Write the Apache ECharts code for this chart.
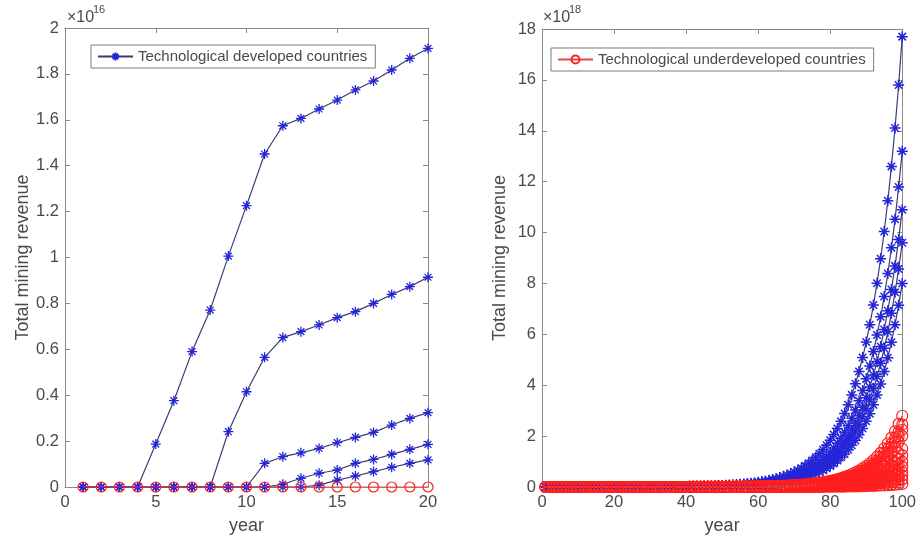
<!DOCTYPE html>
<html>
<head>
<meta charset="utf-8">
<script src="https://cdn.jsdelivr.net/npm/echarts@6/dist/echarts.min.js"></script>
<style>
html,body{margin:0;padding:0;background:#fff;}
#chart{width:919px;height:542px;}
</style>
</head>
<body>
<div id="chart"></div>
<script>
// ---------------- DATA ----------------
// Left panel: values in units of 1e16
const leftYears = [1,2,3,4,5,6,7,8,9,10,11,12,13,14,15,16,17,18,19,20];
const leftDevA = [0,0,0,0,0.187,0.376,0.59,0.771,1.006,1.226,1.451,1.574,1.606,1.647,1.686,1.73,1.769,1.817,1.868,1.911];
const leftDevB = [0,0,0,0,0,0,0,0,0.241,0.415,0.565,0.651,0.677,0.706,0.738,0.764,0.800,0.839,0.873,0.914];
const leftDevC = [0,0,0,0,0,0,0,0,0,0,0.103,0.132,0.149,0.168,0.193,0.216,0.238,0.270,0.299,0.324];
const leftDevD = [0,0,0,0,0,0,0,0,0,0,0,0.012,0.038,0.060,0.074,0.103,0.120,0.142,0.164,0.186];
const leftDevE = [0,0,0,0,0,0,0,0,0,0,0,0,0,0.008,0.030,0.048,0.067,0.086,0.103,0.118];
const leftUndev = [0,0,0,0,0,0,0,0,0,0,0,0,0,0,0,0,0,0,0,0];

// Right panel: values in units of 1e18
const rightYears = [1,2,3,4,5,6,7,8,9,10,11,12,13,14,15,16,17,18,19,20,21,22,23,24,25,26,27,28,29,30,31,32,33,34,35,36,37,38,39,40,41,42,43,44,45,46,47,48,49,50,51,52,53,54,55,56,57,58,59,60,61,62,63,64,65,66,67,68,69,70,71,72,73,74,75,76,77,78,79,80,81,82,83,84,85,86,87,88,89,90,91,92,93,94,95,96,97,98,99,100];

const rightDev1 = [0.0002,0.0002,0.0003,0.0003,0.0003,0.0004,0.0004,0.0005,0.0005,0.0006,
0.0007,0.0008,0.0009,0.001,0.0011,0.0013,0.0014,0.0016,0.0018,0.002,
0.0023,0.0025,0.0028,0.0032,0.0036,0.004,0.0045,0.005,0.0056,0.0063,
0.007,0.008,0.009,0.01,0.011,0.0125,0.014,0.016,0.018,0.02,
0.022,0.025,0.028,0.031,0.035,0.039,0.044,0.049,0.055,0.061,
0.069,0.077,0.086,0.096,0.108,0.121,0.135,0.152,0.170,0.190,
0.213,0.239,0.267,0.299,0.335,0.375,0.420,0.471,0.527,0.591,
0.662,0.741,0.830,0.930,1.041,1.166,1.306,1.463,1.638,1.835,
2.06,2.30,2.58,2.89,3.23,3.62,4.06,4.54,5.09,5.70,
6.38,7.15,8.01,8.97,10.04,11.25,12.60,14.11,15.80,17.7];

const rightDev2 = [0.0001,0.0002,0.0002,0.0002,0.0002,0.0003,0.0003,0.0004,0.0004,0.0005,
0.0005,0.0006,0.0007,0.0007,0.0008,0.001,0.0011,0.0012,0.0013,0.0015,
0.0017,0.0019,0.0021,0.0024,0.0027,0.003,0.0034,0.0037,0.0042,0.0047,
0.0053,0.006,0.0067,0.0075,0.0083,0.0093,0.0104,0.012,0.013,0.015,
0.016,0.018,0.021,0.023,0.026,0.029,0.033,0.037,0.041,0.046,
0.051,0.057,0.064,0.072,0.080,0.090,0.101,0.113,0.127,0.142,
0.159,0.178,0.199,0.223,0.250,0.280,0.314,0.351,0.393,0.441,
0.493,0.553,0.619,0.693,0.776,0.870,0.974,1.091,1.222,1.368,
1.53,1.72,1.92,2.15,2.41,2.70,3.03,3.39,3.79,4.25,
4.76,5.33,5.97,6.69,7.49,8.39,9.40,10.52,11.79,13.2];

const rightDev3 = [0.0001,0.0001,0.0002,0.0002,0.0002,0.0002,0.0003,0.0003,0.0003,0.0004,
0.0004,0.0005,0.0005,0.0006,0.0007,0.0008,0.0009,0.001,0.0011,0.0012,
0.0014,0.0015,0.0017,0.002,0.0022,0.0025,0.0028,0.0031,0.0034,0.0039,
0.0043,0.0049,0.0055,0.0062,0.0069,0.0077,0.0086,0.0097,0.011,0.012,
0.014,0.015,0.017,0.019,0.022,0.024,0.027,0.030,0.034,0.038,
0.042,0.047,0.053,0.059,0.066,0.074,0.083,0.093,0.105,0.117,
0.131,0.147,0.165,0.184,0.206,0.231,0.259,0.290,0.325,0.364,
0.407,0.456,0.511,0.572,0.641,0.718,0.804,0.901,1.009,1.130,
1.27,1.42,1.59,1.78,1.99,2.23,2.50,2.80,3.13,3.51,
3.93,4.40,4.93,5.52,6.19,6.93,7.76,8.69,9.73,10.9];

const rightDev4 = [0.0001,0.0001,0.0001,0.0002,0.0002,0.0002,0.0002,0.0003,0.0003,0.0003,
0.0004,0.0004,0.0005,0.0005,0.0006,0.0007,0.0008,0.0009,0.001,0.0011,
0.0012,0.0014,0.0015,0.0017,0.0019,0.0022,0.0024,0.0027,0.003,0.0034,
0.0038,0.0043,0.0048,0.0054,0.006,0.0068,0.0076,0.0085,0.0095,0.011,
0.012,0.013,0.015,0.017,0.019,0.021,0.024,0.026,0.030,0.033,
0.037,0.042,0.047,0.052,0.059,0.066,0.073,0.082,0.092,0.103,
0.116,0.129,0.145,0.162,0.182,0.204,0.228,0.255,0.286,0.320,
0.359,0.402,0.450,0.504,0.565,0.632,0.708,0.793,0.889,0.995,
1.11,1.25,1.40,1.57,1.75,1.96,2.20,2.46,2.76,3.09,
3.46,3.88,4.34,4.86,5.45,6.10,6.83,7.65,8.57,9.6];

const rightDev5 = [0.0001,0.0001,0.0001,0.0001,0.0001,0.0002,0.0002,0.0002,0.0002,0.0003,
0.0003,0.0004,0.0004,0.0005,0.0005,0.0006,0.0006,0.0007,0.0008,0.0009,
0.001,0.0011,0.0013,0.0014,0.0016,0.0018,0.002,0.0023,0.0025,0.0028,
0.0032,0.0036,0.004,0.0045,0.005,0.0056,0.0063,0.0071,0.008,0.009,
0.01,0.011,0.013,0.014,0.016,0.018,0.020,0.022,0.025,0.028,
0.031,0.035,0.039,0.044,0.049,0.055,0.061,0.069,0.077,0.086,
0.096,0.108,0.121,0.135,0.152,0.170,0.190,0.213,0.238,0.267,
0.299,0.335,0.375,0.420,0.471,0.527,0.590,0.661,0.741,0.829,
0.929,1.04,1.17,1.30,1.46,1.64,1.83,2.05,2.30,2.58,
2.88,3.23,3.62,4.05,4.54,5.08,5.69,6.38,7.14,8.0];

const rightUndev1 = [0,0,0,0,0,0,0,0,0,0,0,0,0,0,0,0,0,0,0,0,
0,0,0,0,0,0,0,0,0,0,0,0,0,0,0,0,0,0,0,0,
0.002,0.0023,0.0026,0.003,0.0034,0.0038,0.0043,0.0048,0.0055,0.0062,
0.007,0.0079,0.0089,0.0101,0.0114,0.0129,0.0146,0.0165,0.0186,0.021,
0.024,0.027,0.031,0.035,0.039,0.045,0.050,0.056,0.064,0.073,
0.081,0.092,0.104,0.118,0.132,0.148,0.168,0.190,0.216,0.244,
0.274,0.311,0.350,0.398,0.448,0.507,0.571,0.647,0.731,0.826,
0.93,1.05,1.19,1.34,1.52,1.72,1.94,2.19,2.48,2.8];

const rightUndev2 = [0,0,0,0,0,0,0,0,0,0,0,0,0,0,0,0,0,0,0,0,
0,0,0,0,0,0,0,0,0,0,0,0,0,0,0,0,0,0,0,0,
0.0018,0.002,0.0023,0.0026,0.003,0.0033,0.0038,0.0042,0.0048,0.0054,
0.0061,0.0069,0.0078,0.0088,0.01,0.0113,0.0128,0.0144,0.0163,0.019,
0.021,0.024,0.027,0.031,0.034,0.039,0.044,0.049,0.056,0.064,
0.071,0.081,0.091,0.103,0.115,0.130,0.147,0.166,0.189,0.213,
0.240,0.272,0.306,0.348,0.392,0.443,0.500,0.566,0.640,0.723,
0.82,0.92,1.04,1.18,1.33,1.50,1.70,1.92,2.17,2.45];

const rightUndev3 = [0,0,0,0,0,0,0,0,0,0,0,0,0,0,0,0,0,0,0,0,
0,0,0,0,0,0,0,0,0,0,0,0,0,0,0,0,0,0,0,0,
0.0016,0.0018,0.0021,0.0024,0.0027,0.003,0.0035,0.0039,0.0044,0.005,
0.0056,0.0063,0.0072,0.0081,0.0092,0.0104,0.0118,0.0132,0.015,0.017,
0.0196,0.022,0.025,0.028,0.032,0.036,0.041,0.045,0.052,0.059,
0.065,0.074,0.083,0.095,0.106,0.119,0.135,0.153,0.173,0.196,
0.221,0.250,0.281,0.320,0.360,0.407,0.459,0.520,0.587,0.664,
0.749,0.846,0.956,1.08,1.22,1.38,1.56,1.76,1.99,2.25];

const rightUndev4 = [0,0,0,0,0,0,0,0,0,0,0,0,0,0,0,0,0,0,0,0,
0,0,0,0,0,0,0,0,0,0,0,0,0,0,0,0,0,0,0,0,
0.0014,0.0016,0.0019,0.0021,0.0024,0.0027,0.0031,0.0035,0.0039,0.0044,
0.005,0.0056,0.0064,0.0072,0.0081,0.0092,0.0104,0.0118,0.0133,0.015,
0.017,0.020,0.022,0.025,0.028,0.032,0.036,0.040,0.046,0.052,
0.058,0.066,0.074,0.084,0.094,0.106,0.120,0.136,0.154,0.174,
0.196,0.222,0.250,0.284,0.320,0.362,0.408,0.462,0.52,0.59,
0.67,0.75,0.85,0.96,1.09,1.23,1.39,1.57,1.77,2.0];

const rightUndev5 = [0,0,0,0,0,0,0,0,0,0,0,0,0,0,0,0,0,0,0,0,
0,0,0,0,0,0,0,0,0,0,0,0,0,0,0,0,0,0,0,0,
0.001,0.0012,0.0014,0.0016,0.0018,0.002,0.0023,0.0026,0.0029,0.0033,
0.0037,0.0042,0.0048,0.0054,0.0061,0.0069,0.0078,0.0088,0.01,0.011,
0.013,0.015,0.017,0.019,0.021,0.024,0.027,0.030,0.035,0.039,
0.044,0.050,0.056,0.063,0.071,0.080,0.090,0.102,0.116,0.131,
0.147,0.167,0.188,0.213,0.240,0.272,0.306,0.347,0.392,0.443,
0.50,0.56,0.64,0.72,0.81,0.92,1.04,1.17,1.33,1.5];

const rightUndev6 = [0,0,0,0,0,0,0,0,0,0,0,0,0,0,0,0,0,0,0,0,
0,0,0,0,0,0,0,0,0,0,0,0,0,0,0,0,0,0,0,0,
0.0008,0.001,0.0011,0.0013,0.0015,0.0017,0.0019,0.0021,0.0024,0.0027,
0.0031,0.0035,0.004,0.0045,0.0051,0.0058,0.0065,0.0074,0.0084,0.0095,
0.0109,0.0123,0.0138,0.0156,0.0175,0.020,0.0225,0.025,0.029,0.0325,
0.036,0.041,0.046,0.0525,0.059,0.066,0.075,0.085,0.096,0.109,
0.123,0.139,0.156,0.178,0.200,0.226,0.255,0.289,0.326,0.369,
0.416,0.47,0.531,0.60,0.679,0.766,0.866,0.979,1.106,1.25];

const rightUndev7 = [0,0,0,0,0,0,0,0,0,0,0,0,0,0,0,0,0,0,0,0,
0,0,0,0,0,0,0,0,0,0,0,0,0,0,0,0,0,0,0,0,
0.0007,0.0008,0.0009,0.001,0.0012,0.0014,0.0015,0.0017,0.002,0.0022,
0.0025,0.0028,0.0032,0.0036,0.0041,0.0046,0.0052,0.0059,0.0067,0.0076,
0.0087,0.0098,0.011,0.0125,0.014,0.016,0.018,0.020,0.023,0.026,
0.029,0.033,0.037,0.042,0.047,0.053,0.060,0.068,0.077,0.087,
0.098,0.111,0.125,0.142,0.160,0.181,0.204,0.231,0.261,0.295,
0.333,0.376,0.425,0.480,0.543,0.613,0.693,0.783,0.885,1.0];

const rightUndev8 = [0,0,0,0,0,0,0,0,0,0,0,0,0,0,0,0,0,0,0,0,
0,0,0,0,0,0,0,0,0,0,0,0,0,0,0,0,0,0,0,0,
0.0005,0.0006,0.0007,0.0008,0.0009,0.0011,0.0012,0.0014,0.0015,0.0017,
0.002,0.0022,0.0025,0.0029,0.0033,0.0037,0.0042,0.0047,0.0054,0.0061,
0.007,0.0078,0.0088,0.010,0.0112,0.0128,0.0144,0.016,0.0184,0.0208,
0.023,0.0264,0.0296,0.0336,0.0376,0.0424,0.048,0.0544,0.0616,0.0696,
0.0784,0.0888,0.100,0.1136,0.128,0.1448,0.1632,0.1848,0.2088,0.236,
0.2664,0.3008,0.34,0.384,0.4344,0.4904,0.5544,0.6264,0.708,0.8];

const rightUndev9 = [0,0,0,0,0,0,0,0,0,0,0,0,0,0,0,0,0,0,0,0,
0,0,0,0,0,0,0,0,0,0,0,0,0,0,0,0,0,0,0,0,
0.0004,0.0005,0.0005,0.0006,0.0007,0.0008,0.0009,0.001,0.0012,0.0013,
0.0015,0.0017,0.0019,0.0022,0.0024,0.0028,0.0031,0.0035,0.004,0.0046,
0.0052,0.0059,0.0066,0.0075,0.0084,0.0096,0.011,0.012,0.014,0.016,
0.017,0.020,0.022,0.025,0.028,0.032,0.036,0.041,0.046,0.052,
0.059,0.067,0.075,0.085,0.096,0.109,0.122,0.139,0.157,0.177,
0.200,0.226,0.255,0.288,0.326,0.368,0.416,0.47,0.53,0.6];

const rightUndev10 = [0,0,0,0,0,0,0,0,0,0,0,0,0,0,0,0,0,0,0,0,
0,0,0,0,0,0,0,0,0,0,0,0,0,0,0,0,0,0,0,0,
0.0003,0.0003,0.0004,0.0004,0.0005,0.0006,0.0007,0.0008,0.0009,0.001,
0.0011,0.0012,0.0014,0.0016,0.0018,0.0021,0.0023,0.0026,0.003,0.0034,
0.0039,0.0044,0.005,0.0056,0.0063,0.0072,0.0081,0.009,0.0104,0.0117,
0.013,0.0149,0.0167,0.0189,0.0212,0.0239,0.027,0.0306,0.0347,0.0392,
0.0441,0.05,0.0563,0.0639,0.072,0.0815,0.0918,0.104,0.1175,0.1328,
0.1499,0.1692,0.1913,0.216,0.2444,0.2759,0.3119,0.3524,0.3983,0.45];

const rightUndev11 = [0,0,0,0,0,0,0,0,0,0,0,0,0,0,0,0,0,0,0,0,
0,0,0,0,0,0,0,0,0,0,0,0,0,0,0,0,0,0,0,0,
0.0002,0.0002,0.0003,0.0003,0.0003,0.0004,0.0004,0.0005,0.0006,0.0007,
0.0007,0.0008,0.0009,0.0011,0.0012,0.0014,0.0016,0.0018,0.002,0.0023,
0.0026,0.0029,0.0033,0.0037,0.0042,0.0048,0.0054,0.006,0.0068,0.0077,
0.0087,0.0098,0.011,0.0125,0.014,0.016,0.018,0.020,0.023,0.026,
0.029,0.033,0.038,0.043,0.048,0.054,0.061,0.069,0.078,0.089,
0.100,0.113,0.128,0.144,0.163,0.184,0.208,0.235,0.266,0.3];

const rightUndev12 = [0,0,0,0,0,0,0,0,0,0,0,0,0,0,0,0,0,0,0,0,
0,0,0,0,0,0,0,0,0,0,0,0,0,0,0,0,0,0,0,0,
0.0001,0.0001,0.0001,0.0001,0.0001,0.0002,0.0002,0.0002,0.0002,0.0003,
0.0003,0.0003,0.0004,0.0004,0.0005,0.0006,0.0006,0.0007,0.0008,0.0009,
0.001,0.0012,0.0013,0.0015,0.0017,0.0019,0.0021,0.0024,0.0027,0.0031,
0.0035,0.0039,0.0044,0.005,0.0056,0.0063,0.0072,0.0081,0.0092,0.010,
0.012,0.013,0.015,0.017,0.019,0.022,0.024,0.028,0.031,0.035,
0.040,0.045,0.051,0.058,0.065,0.074,0.083,0.094,0.106,0.12];

// Axis ticks / labels
const leftXTicks = {min: 0, max: 20, interval: 5};
const leftYTicks = {min: 0, max: 2, interval: 0.2};
const rightXTicks = {min: 0, max: 100, interval: 20};
const rightYTicks = {min: 0, max: 18, interval: 2};
const leftExponent = '16';
const rightExponent = '18';
const devName = 'Technological developed countries';
const undevName = 'Technological underdeveloped countries';
const xName = 'year';
const yName = 'Total mining revenue';

// ---------------- STYLE ----------------
const FONT = '"Liberation Sans", Arial, Helvetica, sans-serif';
const TXT = '#4a4a4a';
const AXC = '#8a8a8a';
const BLUE_LINE = '#3c3c74';
const BLUE_MK = '#2525d8';
const RED_LINE = '#e84a4a';
const RED_MK = '#ff2020';
const STAR = 'path://M5,0L5,10M0,5L10,5M1.6,1.6L8.4,8.4M1.6,8.4L8.4,1.6';

function pairs(xs, ys) { return xs.map((x, i) => [x, ys[i]]); }

function devSeries(xs, ys, xi, yi, size, bw) {
  return {
    type: 'line', name: devName, xAxisIndex: xi, yAxisIndex: yi,
    data: pairs(xs, ys), symbol: STAR, symbolSize: size,
    itemStyle: {color: BLUE_MK, borderColor: BLUE_MK, borderWidth: bw},
    lineStyle: {color: BLUE_LINE, width: 1.2},
    emphasis: {disabled: true}, silent: true, z: 2
  };
}
function undevSeries(xs, ys, xi, yi, size) {
  return {
    type: 'line', name: undevName, xAxisIndex: xi, yAxisIndex: yi,
    data: pairs(xs, ys), symbol: 'circle', symbolSize: size,
    itemStyle: {color: 'rgba(255,255,255,0)', borderColor: RED_MK, borderWidth: 1.2},
    lineStyle: {color: RED_LINE, width: 1.2},
    emphasis: {disabled: true}, silent: true, z: 3
  };
}

function xAx(grid, t, pos, withLabel) {
  return {
    type: 'value', gridIndex: grid, position: pos, min: t.min, max: t.max, interval: t.interval,
    axisLine: {show: true, onZero: false, lineStyle: {color: AXC, width: 1}},
    axisTick: {show: true, inside: true, length: 5, lineStyle: {color: AXC}},
    axisLabel: {show: withLabel, color: TXT, fontSize: 16.5, fontFamily: FONT, margin: 7},
    splitLine: {show: false},
    name: withLabel ? xName : '', nameLocation: 'middle', nameGap: 30,
    nameTextStyle: {color: TXT, fontSize: 18, fontFamily: FONT}
  };
}
function yAx(grid, t, pos, withLabel, gap) {
  return {
    type: 'value', gridIndex: grid, position: pos, min: t.min, max: t.max, interval: t.interval,
    axisLine: {show: true, onZero: false, lineStyle: {color: AXC, width: 1}},
    axisTick: {show: true, inside: true, length: 5, lineStyle: {color: AXC}},
    axisLabel: {show: withLabel, color: TXT, fontSize: 16.5, fontFamily: FONT, margin: 6},
    splitLine: {show: false},
    name: withLabel ? yName : '', nameLocation: 'middle', nameGap: gap, nameRotate: 90,
    nameTextStyle: {color: TXT, fontSize: 18, fontFamily: FONT}
  };
}

const series = [
  devSeries(leftYears, leftDevA, 0, 0, 10, 1.3),
  devSeries(leftYears, leftDevB, 0, 0, 10, 1.3),
  devSeries(leftYears, leftDevC, 0, 0, 10, 1.3),
  devSeries(leftYears, leftDevD, 0, 0, 10, 1.3),
  devSeries(leftYears, leftDevE, 0, 0, 10, 1.3),
  undevSeries(leftYears, leftUndev, 0, 0, 10),
  devSeries(rightYears, rightDev1, 2, 2, 11, 1.5),
  devSeries(rightYears, rightDev2, 2, 2, 11, 1.5),
  devSeries(rightYears, rightDev3, 2, 2, 11, 1.5),
  devSeries(rightYears, rightDev4, 2, 2, 11, 1.5),
  devSeries(rightYears, rightDev5, 2, 2, 11, 1.5),
  undevSeries(rightYears, rightUndev1, 2, 2, 11),
  undevSeries(rightYears, rightUndev2, 2, 2, 11),
  undevSeries(rightYears, rightUndev3, 2, 2, 11),
  undevSeries(rightYears, rightUndev4, 2, 2, 11),
  undevSeries(rightYears, rightUndev5, 2, 2, 11),
  undevSeries(rightYears, rightUndev6, 2, 2, 11),
  undevSeries(rightYears, rightUndev7, 2, 2, 11),
  undevSeries(rightYears, rightUndev8, 2, 2, 11),
  undevSeries(rightYears, rightUndev9, 2, 2, 11),
  undevSeries(rightYears, rightUndev10, 2, 2, 11),
  undevSeries(rightYears, rightUndev11, 2, 2, 11),
  undevSeries(rightYears, rightUndev12, 2, 2, 11)
];

const legendCommon = {
  orient: 'horizontal', itemWidth: 35, itemHeight: 10, itemGap: 4,
  padding: [4, 8, 4, 6], borderColor: '#7a7a7a', borderWidth: 1, backgroundColor: '#fff',
  textStyle: {color: TXT, fontSize: 15, fontFamily: FONT},
  selectedMode: false
};

function expText(x, exp) {
  return [
    {type: 'text', left: x, top: 10, style: {text: '×10', fill: TXT, font: '16px ' + FONT}},
    {type: 'text', left: x + 26, top: 4, style: {text: exp, fill: TXT, font: '11px ' + FONT}}
  ];
}

const option = {
  animation: false,
  backgroundColor: '#ffffff',
  grid: [
    {left: 65, top: 28, width: 363, height: 459, show: true, backgroundColor: '#fff', borderWidth: 0},
    {left: 542, top: 29, width: 361, height: 458, show: true, backgroundColor: '#fff', borderWidth: 0}
  ],
  xAxis: [
    xAx(0, leftXTicks, 'bottom', true),
    xAx(0, leftXTicks, 'top', false),
    xAx(1, rightXTicks, 'bottom', true),
    xAx(1, rightXTicks, 'top', false)
  ],
  yAxis: [
    yAx(0, leftYTicks, 'left', true, 33),
    yAx(0, leftYTicks, 'right', false, 0),
    yAx(1, rightYTicks, 'left', true, 33),
    yAx(1, rightYTicks, 'right', false, 0)
  ],
  legend: [
    Object.assign({}, legendCommon, {left: 91, top: 45, data: [devName]}),
    Object.assign({}, legendCommon, {left: 551, top: 48, data: [undevName]})
  ],
  graphic: [].concat(expText(67, leftExponent), expText(543, rightExponent)),
  series: series
};

const chart = echarts.init(document.getElementById('chart'), null, {renderer: 'canvas'});
chart.setOption(option);
</script>
</body>
</html>
